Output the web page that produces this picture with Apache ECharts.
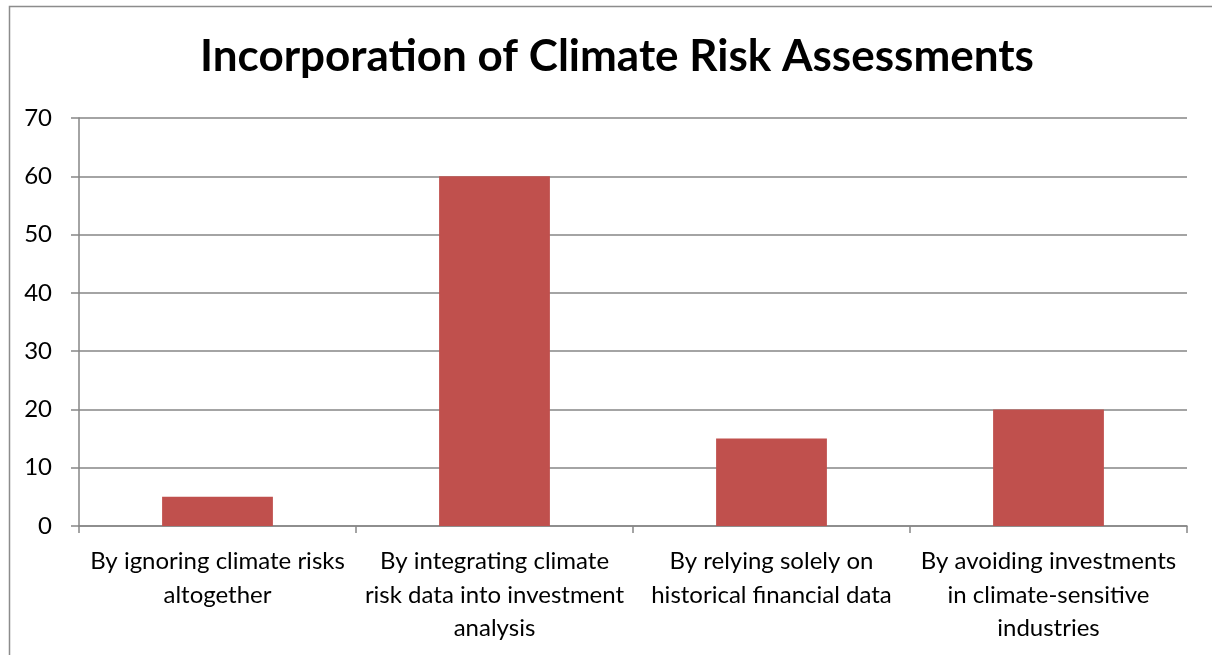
<!DOCTYPE html>
<html><head><meta charset="utf-8">
<script src="https://cdn.jsdelivr.net/npm/echarts@6/dist/echarts.min.js"></script>
<style>html,body{margin:0;padding:0;background:#fff}#c{width:1212px;height:655px}</style>
</head><body><div id="c"></div>
<script>
const titleText = 'Incorporation of Climate Risk Assessments';
const categories = [
  'By ignoring climate risks\naltogether',
  'By integrating climate\nrisk data into investment\nanalysis',
  'By relying solely on\nhistorical financial data',
  'By avoiding investments\nin climate-sensitive\nindustries'
];
const values = [5, 60, 15, 20];
const yMin = 0, yMax = 70, yStep = 10;

const chart = echarts.init(document.getElementById('c'));
const font = 'Lato, "Open Sans", sans-serif';
chart.setOption({
  animation: false,
  backgroundColor: '#fff',
  graphic: [{
    type: 'rect', shape: {x: 9.5, y: 6.5, width: 1300, height: 800},
    style: {fill: 'none', stroke: '#8c8c8c', lineWidth: 1.5}, silent: true
  }],
  title: {
    text: titleText, left: 612, textAlign: 'center', top: 30,
    textStyle: {fontFamily: font, fontWeight: 'bold', fontSize: 44, color: '#000'}
  },
  grid: {left: 79, right: 25, top: 118, bottom: 129, containLabel: false},
  xAxis: {
    type: 'category', data: categories,
    axisLine: {lineStyle: {color: '#868686', width: 1.5}},
    axisTick: {show: true, length: 7, lineStyle: {color: '#868686', width: 1.5}},
    axisLabel: {fontFamily: font, fontSize: 24, color: '#000', lineHeight: 33.5, margin: 19, interval: 0}
  },
  yAxis: {
    type: 'value', min: yMin, max: yMax, interval: yStep,
    axisLine: {show: true, lineStyle: {color: '#868686', width: 1.5}},
    axisTick: {show: true, length: 8, lineStyle: {color: '#868686', width: 1.5}},
    splitLine: {lineStyle: {color: '#868686', width: 1.5}},
    axisLabel: {fontFamily: font, fontSize: 24, color: '#000', margin: 27}
  },
  series: [{
    type: 'bar', data: values, barWidth: '40%',
    itemStyle: {color: '#c0504d'}
  }]
});
</script></body></html>
